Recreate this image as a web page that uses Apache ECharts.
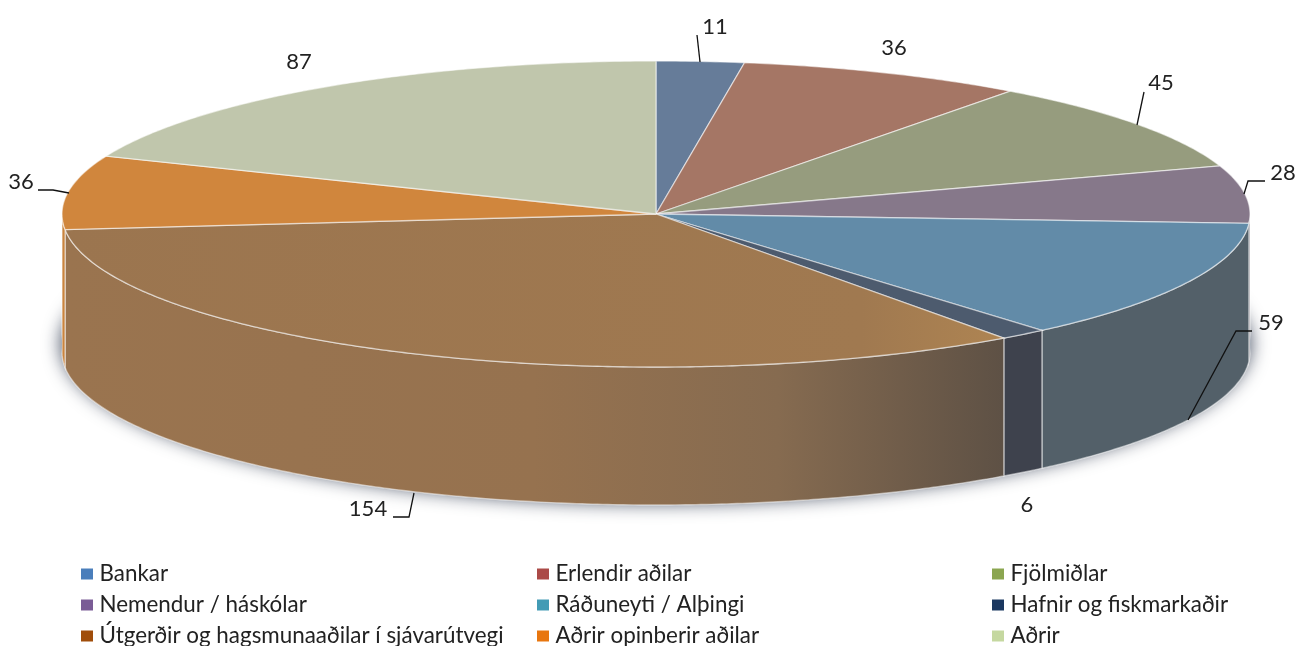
<!DOCTYPE html>
<html>
<head>
<meta charset="utf-8">
<style>html,body{margin:0;padding:0;background:#fff}#main{width:1306px;height:646px}</style>
<script src="https://cdn.jsdelivr.net/npm/echarts@6/dist/echarts.min.js"></script>
</head>
<body>
<div id="main"></div>
<script type="text/javascript">
// data
var categories = ['Bankar', 'Erlendir aðilar', 'Fjölmiðlar', 'Nemendur / háskólar', 'Ráðuneyti / Alþingi',
    'Hafnir og fiskmarkaðir', 'Útgerðir og hagsmunaaðilar í sjávarútvegi', 'Aðrir opinberir aðilar', 'Aðrir'];
var values = [11, 36, 45, 28, 59, 6, 154, 36, 87];

// colours: legend key, top face, side wall
var legendColors = ['#4A7EBB', '#AB4A47', '#8BA650', '#7A5C96', '#429BB5', '#1B3860', '#A04D0A', '#E8760F', '#C5D8A0'];
var topColors = ['#667C99', '#A57665', '#969C7E', '#86788A', '#628BA8', '#4D5B6E', '#9B754F', '#D0863D', '#C0C6AC'];
var wallColors = ['#556', '#556', '#556', '#5A5560', '#536069', '#3E424D', '#9A744F', '#C9843F', '#889'];

// pie layout
var cx = 656, cy = 214, rx = 594, ry = 153, depth = 138;
var fontName = 'Lato';

// label centres and leader lines, same order as values
var labelPos = [[715, 27], [894, 48], [1161, 83], [1283, 173], [1271, 323], [1027, 505], [368, 509], [21, 182], [299, 62]];
var leaders = [
    [[697, 35], [700, 62]],
    null,
    [[1144, 92], [1137, 125]],
    [[1265, 181], [1248, 181], [1244, 194]],
    [[1252, 331], [1236, 331], [1188, 420]],
    null,
    [[393, 517], [409, 517], [414, 493]],
    [[38, 190], [53, 190], [69, 193]],
    null
];

var total = values.reduce(function (a, b) { return a + b; }, 0);

function px(deg) { return cx + rx * Math.sin(deg * Math.PI / 180); }
function py(deg, dy) { return cy + (dy || 0) - ry * Math.cos(deg * Math.PI / 180); }

function arc(a0, a1, dy) {
    var pts = [], n = Math.max(2, Math.ceil((a1 - a0) * 2));
    for (var i = 0; i <= n; i++) {
        var a = a0 + (a1 - a0) * i / n;
        pts.push([px(a), py(a, dy)]);
    }
    return pts;
}

// the brown slice darkens towards its right hand end
var brownWall = new echarts.graphic.LinearGradient(64, 0, 1003, 0, [
    { offset: 0, color: '#9A744F' }, { offset: 0.5, color: '#96724F' },
    { offset: 0.76, color: '#866B50' }, { offset: 1, color: '#5E5145' }], true);
var brownTop = new echarts.graphic.LinearGradient(64, 0, 1003, 0, [
    { offset: 0, color: '#9B754F' }, { offset: 0.85, color: '#A07950' }, { offset: 1, color: '#AE8452' }], true);

function renderSlice(i) {
    return function (params, api) {
        var before = 0;
        for (var k = 0; k < i; k++) before += values[k];
        var a0 = before / total * 360;
        var a1 = (before + api.value(0)) / total * 360;
        var children = [];

        // side wall, only the front half shows
        var w0 = Math.max(a0, 90), w1 = Math.min(a1, 270);
        if (w1 > w0) {
            children.push({
                type: 'polygon',
                shape: { points: arc(w0, w1, 0).concat(arc(w0, w1, depth).reverse()) },
                style: { fill: i === 6 ? brownWall : wallColors[i], stroke: 'rgba(255,255,255,0.5)', lineWidth: 1.4 }
            });
        }
        // top face
        children.push({
            type: 'polygon',
            shape: { points: [[cx, cy]].concat(arc(a0, a1, 0)) },
            style: { fill: i === 6 ? brownTop : topColors[i], stroke: 'rgba(255,255,255,0.55)', lineWidth: 1.3 }
        });
        if (leaders[i]) {
            children.push({
                type: 'polyline',
                shape: { points: leaders[i] },
                style: { fill: null, stroke: '#111', lineWidth: 1.3 }
            });
        }
        children.push({
            type: 'text',
            style: {
                text: String(api.value(0)), x: labelPos[i][0], y: labelPos[i][1],
                fill: '#222', font: '22px ' + fontName, align: 'center', verticalAlign: 'middle'
            }
        });
        return { type: 'group', children: children };
    };
}

var series = [{
    name: 'shadow',
    type: 'custom',
    coordinateSystem: 'none',
    silent: true,
    data: [[1]],
    renderItem: function () {
        return {
            type: 'ellipse',
            shape: { cx: cx, cy: cy + 130, rx: rx + 1, ry: ry + 6 },
            style: { fill: '#7A8494', shadowBlur: 18, shadowColor: 'rgba(60,70,90,0.95)' }
        };
    }
}];
categories.forEach(function (name, i) {
    series.push({
        name: name,
        type: 'custom',
        coordinateSystem: 'none',
        silent: true,
        itemStyle: { color: legendColors[i] },
        data: [[values[i]]],
        renderItem: renderSlice(i)
    });
});

function column(left, names) {
    return {
        left: left, top: 563, height: 110, orient: 'vertical', padding: 0, itemGap: 9,
        icon: 'rect', itemWidth: 12, itemHeight: 11, selectedMode: false,
        textStyle: { fontFamily: fontName, fontSize: 22.4, color: '#222', lineHeight: 20, padding: [0, 0, 0, 1.5] },
        data: names
    };
}

var myChart = echarts.init(document.getElementById('main'), null, { renderer: 'canvas' });
myChart.setOption({
    animation: false,
    backgroundColor: '#fff',
    legend: [
        column(81, [categories[0], categories[3], categories[6]]),
        column(537, [categories[1], categories[4], categories[7]]),
        column(992, [categories[2], categories[5], categories[8]])
    ],
    series: series
});
</script>
</body>
</html>
